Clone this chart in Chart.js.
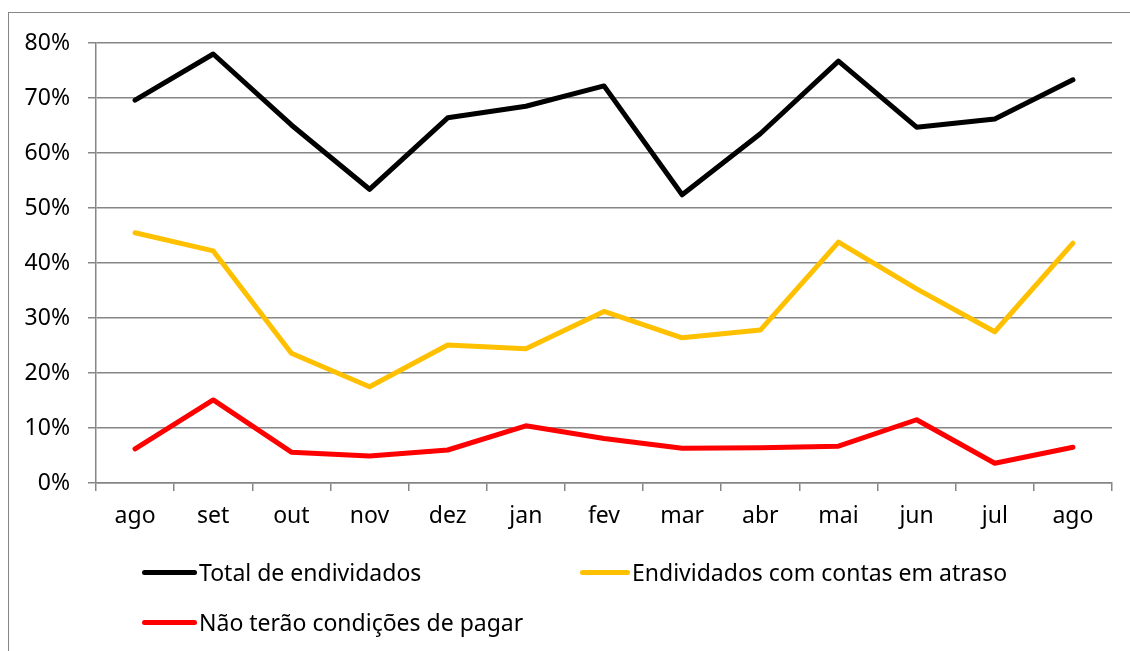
<!DOCTYPE html>
<html>
<head>
<meta charset="utf-8">
<script src="https://cdn.jsdelivr.net/npm/chart.js@4.4.1/dist/chart.umd.min.js"></script>
<style>
    html, body { margin: 0; padding: 0; background: #fff; }
    #wrap { position: relative; width: 1130px; height: 651px; overflow: hidden; }
    #frame { position: absolute; left: 8px; top: 12px; width: 1130px; height: 700px;
        border-left: 1px solid #868686; border-top: 1px solid #868686; }
    canvas { position: absolute; left: 0; top: 0; }
    .leg { position: absolute; font-family: 'Noto Sans', sans-serif; font-size: 23px; color: #000;
        line-height: 26px; white-space: nowrap; }
    .leg span.sw { position: absolute; top: 11px; height: 5px; border-radius: 3px; }
</style>
</head>
<body>
<div id="wrap">
    <div id="frame"></div>
    <canvas id="chart" width="1130" height="651"></canvas>
    <div id="legend"></div>
</div>
<script>
    // Data
    const months = ['ago', 'set', 'out', 'nov', 'dez', 'jan', 'fev', 'mar', 'abr', 'mai', 'jun', 'jul', 'ago'];
    const totalEndividados = [69.6, 78.0, 65.1, 53.4, 66.4, 68.5, 72.2, 52.4, 63.5, 76.7, 64.7, 66.2, 73.3];
    const contasAtraso = [45.5, 42.2, 23.6, 17.5, 25.1, 24.4, 31.2, 26.4, 27.8, 43.8, 35.3, 27.5, 43.6];
    const semCondicoes = [6.2, 15.1, 5.6, 4.9, 6.0, 10.4, 8.1, 6.3, 6.4, 6.7, 11.5, 3.6, 6.5];
    const seriesNames = ['Total de endividados', 'Endividados com contas em atraso', 'Não terão condições de pagar'];
    const seriesColors = ['#000000', '#FFC000', '#FF0000'];

    const fontFamily = "'Noto Sans', sans-serif";
    const gridColor = '#868686';

    function makeDataset(label, data, color) {
        return {
            label: label,
            data: data,
            borderColor: color,
            backgroundColor: color,
            borderWidth: 5,
            pointRadius: 0,
            borderCapStyle: 'round',
            borderJoinStyle: 'round',
            tension: 0
        };
    }

    const ctx = document.getElementById('chart').getContext('2d');
    const chart = new Chart(ctx, {
        type: 'line',
        data: {
            labels: months,
            datasets: [
                makeDataset(seriesNames[0], totalEndividados, seriesColors[0]),
                makeDataset(seriesNames[1], contasAtraso, seriesColors[1]),
                makeDataset(seriesNames[2], semCondicoes, seriesColors[2])
            ]
        },
        options: {
            responsive: false,
            animation: false,
            layout: { padding: { left: 10, top: 43, right: 18, bottom: 108 } },
            plugins: { legend: { display: false }, tooltip: { enabled: false } },
            scales: {
                x: {
                    offset: true,
                    grid: { drawOnChartArea: false, drawTicks: true, tickLength: 8, offset: true, color: gridColor, lineWidth: 1.5 },
                    border: { color: gridColor, width: 1.5 },
                    ticks: { color: '#000', font: { family: fontFamily, size: 23 }, padding: 12, maxRotation: 0, autoSkip: false },
                    afterFit: function(scale) { scale.height = 60; }
                },
                y: {
                    min: 0,
                    max: 80,
                    grid: { color: gridColor, lineWidth: 1.5, tickLength: 8 },
                    border: { color: gridColor, width: 1.5 },
                    ticks: {
                        stepSize: 10,
                        color: '#000',
                        font: { family: fontFamily, size: 23 },
                        padding: 18,
                        callback: function(v) { return v + '%'; }
                    },
                    afterFit: function(scale) { scale.width = 86; }
                }
            }
        }
    });

    // Legend laid out like the original (two rows)
    const legendPos = [
        { x: 142, y: 559, w: 55 },
        { x: 580, y: 559, w: 50 },
        { x: 142, y: 609, w: 55 }
    ];
    const legendEl = document.getElementById('legend');
    seriesNames.forEach((name, i) => {
        const p = legendPos[i];
        const item = document.createElement('div');
        item.className = 'leg';
        item.style.left = p.x + 'px';
        item.style.top = p.y + 'px';
        item.style.paddingLeft = (p.w + 2) + 'px';
        item.innerHTML = '<span class="sw" style="left:0;width:' + p.w + 'px;background:' + seriesColors[i] + '"></span>' + name;
        legendEl.appendChild(item);
    });
</script>
</body>
</html>
